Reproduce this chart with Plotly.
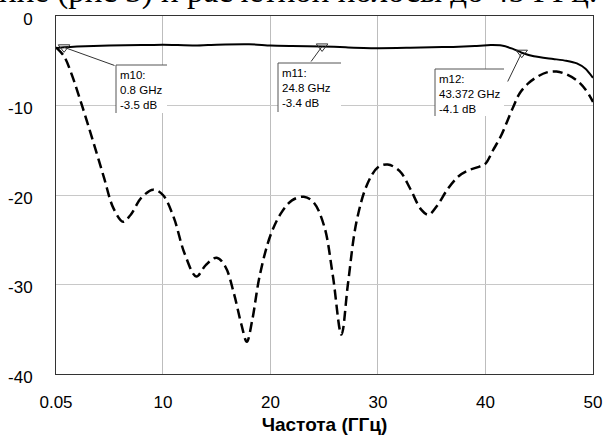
import plotly.graph_objects as go

# ---------------- data ----------------
freq_s21 = [0.05, 0.8, 2.0, 5.0, 8.0, 10.0, 13.0, 15.0, 18.0, 20.0, 22.0, 24.8, 27.0, 30.0,
            33.0, 35.0, 37.0, 39.0, 40.5, 41.5, 42.5, 43.372, 44.5, 46.3, 47.5, 48.5, 49.3, 50.0]
s21_db = [-3.6, -3.5, -3.4, -3.3, -3.25, -3.2, -3.3, -3.2, -3.15, -3.3, -3.35, -3.4, -3.5, -3.6,
          -3.55, -3.5, -3.45, -3.35, -3.25, -3.3, -3.65, -4.1, -4.5, -4.8, -5.0, -5.3, -5.9, -6.9]

freq_s11 = [0.05, 0.8, 1.5, 2.6, 3.5, 4.5, 5.4, 6.3, 7.0, 8.0, 9.1, 10.0, 11.0, 12.0, 13.1,
            14.0, 15.0, 15.8, 16.6, 17.3, 17.8, 18.3, 19.0, 20.0, 21.0, 22.0, 23.1, 24.0,
            25.0, 25.8, 26.6, 27.2, 28.0, 29.0, 30.0, 30.9, 32.0, 33.0, 34.0, 34.7, 35.5,
            36.5, 37.5, 38.3, 39.5, 40.0, 40.7, 41.4, 42.6, 43.2, 44.0, 44.8, 45.7, 46.6,
            47.5, 48.5, 49.3, 50.0]
s11_db = [-3.5, -4.5, -6.5, -10.5, -14.0, -18.0, -21.5, -23.0, -22.2, -20.3, -19.4, -20.0,
          -22.5, -26.5, -29.1, -27.8, -27.0, -28.0, -31.0, -34.5, -36.4, -34.0, -29.0, -24.5,
          -22.0, -20.6, -20.2, -20.8, -23.5, -29.0, -35.6, -30.0, -23.0, -18.8, -16.9, -16.6,
          -17.3, -19.3, -21.6, -22.2, -21.2, -19.3, -17.9, -17.3, -16.8, -16.5, -15.0, -13.5,
          -10.1, -8.6, -7.5, -6.8, -6.3, -6.2, -6.5, -7.2, -8.2, -9.6]

marker_names = ["m10", "m11", "m12"]
marker_freq = [0.8, 24.8, 43.372]
marker_db = [-3.5, -3.4, -4.1]

x_tickvals = [0.05, 10, 20, 30, 40, 50]
x_ticktext = ["0.05", "10", "20", "30", "40", "50"]
y_tickvals = [0, -10, -20, -30, -40]
y_ticktext = ["0", "-10", "-20", "-30", "-40"]
x_title = "Частота (ГГц)"
clipped_caption = "ние (рис 3) и расчетной полосы до 45 ГГц."

# ---------------- layout geometry ----------------
W, H = 605, 435
L, R, T, B = 56, 593, 16, 374
XMIN, XMAX, YMIN, YMAX = 0.05, 50, -40, 0


def px_x(v):
    return L + (v - XMIN) / (XMAX - XMIN) * (R - L)


def px_y(v):
    return T + (YMAX - v) / (YMAX - YMIN) * (B - T)


def paper_x(X):
    return (X - L) / (R - L)


def paper_y(Y):
    return 1 - (Y - T) / (B - T)


fig = go.Figure()
fig.add_trace(go.Scatter(x=freq_s21, y=s21_db, mode="lines",
                         line=dict(color="black", width=2, shape="spline", smoothing=0.6),
                         showlegend=False, hoverinfo="skip"))
fig.add_trace(go.Scatter(x=freq_s11, y=s11_db, mode="lines",
                         line=dict(color="black", width=2.5, dash="10px,5px",
                                   shape="spline", smoothing=1.0),
                         showlegend=False, hoverinfo="skip"))

# marker boxes (pixel rectangles), arrow tails (pixels)
boxes = [(116, 65, 167, 113), (278, 63, 341, 112), (435, 69, 504, 116)]
tails = [(116, 66), (310, 63), (507, 83)]

shapes = []
annotations = []
for name, f, v, (x0, y0, x1, y1), (tx, ty) in zip(marker_names, marker_freq, marker_db, boxes, tails):
    shapes.append(dict(type="rect", xref="paper", yref="paper",
                       x0=paper_x(x0), x1=paper_x(x1), y0=paper_y(y1), y1=paper_y(y0),
                       fillcolor="white", line=dict(width=0), layer="above"))
    shapes.append(dict(type="line", xref="paper", yref="paper",
                       x0=paper_x(x0), x1=paper_x(x1), y0=paper_y(y0), y1=paper_y(y0),
                       line=dict(color="#555555", width=1), layer="above"))
    shapes.append(dict(type="line", xref="paper", yref="paper",
                       x0=paper_x(x0), x1=paper_x(x0), y0=paper_y(y0), y1=paper_y(y1),
                       line=dict(color="#555555", width=1), layer="above"))
    annotations.append(dict(xref="paper", yref="paper", x=paper_x(x0 + 2), y=paper_y(y0 + 2),
                            xanchor="left", yanchor="top", align="left", showarrow=False,
                            text=f"{name}:<br>{f:g} GHz<br>{v:g} dB",
                            font=dict(family="Liberation Sans, Arial", size=11.5, color="black")))
    annotations.append(dict(xref="x", yref="y", x=f, y=v, text="", showarrow=True,
                            arrowhead=0, arrowwidth=1, arrowcolor="#333333",
                            ax=tx - px_x(f), ay=ty - px_y(v)))

fig.add_trace(go.Scatter(x=marker_freq, y=marker_db, mode="markers",
                         marker=dict(symbol="triangle-down-open", size=10, color="#333333",
                                     line=dict(width=1)),
                         showlegend=False, hoverinfo="skip"))

# clipped caption text from the page above the figure (only its lower part is visible)
annotations.append(dict(xref="paper", yref="paper", x=paper_x(-3), y=paper_y(12),
                        xanchor="left", yanchor="bottom", showarrow=False,
                        text=clipped_caption,
                        font=dict(family="Liberation Serif, Times New Roman", size=33, color="black")))

fig.update_layout(
    width=W, height=H,
    margin=dict(l=L, r=W - R, t=T, b=H - B, pad=0, autoexpand=False),
    paper_bgcolor="white", plot_bgcolor="white",
    font=dict(family="Liberation Sans, Arial", color="black"),
    shapes=shapes, annotations=annotations,
    xaxis=dict(range=[XMIN, XMAX], tickvals=x_tickvals, ticktext=x_ticktext,
               automargin=False,
               showgrid=True, gridcolor="#bdbdbd", gridwidth=1,
               showline=True, linecolor="#333333", linewidth=1, mirror=True,
               ticks="outside", ticklen=13, tickcolor="rgba(0,0,0,0)",
               tickfont=dict(size=17), zeroline=False,
               title=dict(text="<b>" + x_title + "</b>", font=dict(size=19), standoff=6)),
    yaxis=dict(range=[YMIN, YMAX], tickvals=y_tickvals, ticktext=y_ticktext,
               automargin=False,
               showgrid=True, gridcolor="#c8c8c8", gridwidth=1,
               showline=True, linecolor="#333333", linewidth=1, mirror=True,
               ticks="outside", ticklen=19, tickcolor="rgba(0,0,0,0)",
               ticklabelshift=3,
               tickfont=dict(size=17), zeroline=False),
)

fig.write_html("out.html")
